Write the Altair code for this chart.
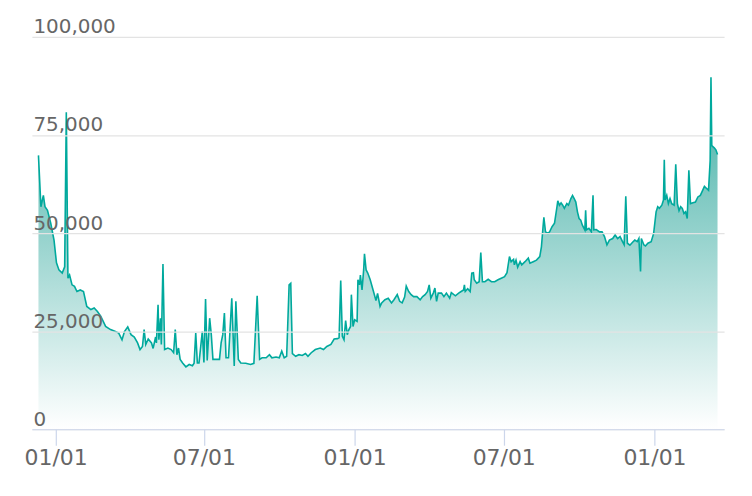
import altair as alt
import pandas as pd

# Day offsets from 2023-01-01 and the values
days_a = [-21, -18, -15, -13, -10, -6, -2, 1, 4, 8, 11, 13, 15, 17, 20, 23, 26, 30, 34, 38,
          43, 47, 51, 55, 61, 67, 73, 77, 81, 84, 88, 92, 96, 100, 103, 106, 108, 110, 113, 117,
          119, 122, 123, 125, 126, 128, 129, 131, 133, 137, 141, 144, 146, 148, 150, 152, 155, 159, 163, 167,
          169, 171, 173, 175, 179]
vals_a = [69800, 56700, 59600, 56700, 55800, 52500, 48200, 42400, 40600, 39800, 41400, 80800, 38500, 39300, 36800,
          36400, 35100, 35500, 35100, 31300, 30500, 30900, 30000, 28800, 26200, 25400, 24900, 24500, 22800, 24900,
          26100, 24100, 23500, 22000, 20300, 21100, 25400, 21600, 23000, 22000, 20600, 23500, 22000, 31700, 22800,
          28300, 21600, 42100, 20300, 20700, 20300, 19500, 25400, 19000, 20700, 17800, 16900, 15900, 16500, 16200,
          16800, 24500, 16900, 16900, 24900]

days_b = [181, 183, 185, 188, 190, 192, 196, 200, 202, 204, 206, 208, 211, 215, 218, 220, 223, 226, 232, 238,
          242, 246, 249, 252, 257, 261, 264, 269, 273, 276, 279, 282, 285, 287, 289, 293, 297, 301, 305, 308,
          312, 317, 323, 327, 331, 336, 340, 344, 346, 348, 350, 352, 354, 356, 358, 360, 361, 363, 365]
vals_b = [17000, 33200, 17500, 28300, 24100, 17800, 17800, 17800, 22000, 24100, 29600, 18200, 18200, 33400, 16100,
          32600, 17800, 16900, 16800, 16500, 16800, 34000, 17800, 18200, 18200, 19000, 18200, 18400, 18200, 19900,
          18200, 18600, 36800, 37200, 19300, 18600, 19000, 18800, 19300, 18600, 19500, 20300, 20700, 20300, 21100,
          21600, 23000, 23100, 23300, 37900, 23700, 22800, 27700, 24100, 25400, 26200, 34300, 26200, 27900]

days_c = [368, 369, 371, 372, 374, 376, 377, 379, 381, 384, 388, 391, 393, 396, 398, 402, 406, 410, 413, 417,
          420, 423, 426, 428, 431, 434, 437, 441, 445, 448, 451, 454, 456, 458, 461, 463, 465, 467, 471, 474,
          477, 481, 483, 488, 492, 495, 498, 499, 500, 503, 506, 508, 510, 511, 514, 517, 519, 521, 524, 528,
          532, 536, 540, 544, 548, 551]
vals_c = [27500, 38100, 36800, 39300, 35500, 40600, 44700, 40600, 39800, 38100, 35100, 32800, 34600, 31300, 32200,
          33000, 33400, 32200, 33000, 34300, 32600, 32200, 33700, 36500, 35100, 34300, 33800, 33800, 33000, 33800,
          34300, 35100, 36800, 33400, 34700, 36000, 32600, 34700, 34700, 33800, 34700, 33400, 34800, 34000, 34700,
          35100, 35500, 36800, 35100, 35800, 35100, 39800, 39900, 38100, 37200, 37600, 45000, 37600, 37600, 38200,
          37600, 37600, 38100, 38500, 38900, 39900]

days_d = [554, 556, 559, 560, 562, 564, 567, 569, 573, 577, 579, 583, 587, 591, 593, 595, 596, 598, 601, 603,
          606, 609, 612, 613, 615, 617, 619, 621, 624, 626, 629, 631, 633, 635, 637, 639, 641, 643, 646, 647,
          648, 651, 654, 656, 657, 660, 664, 667, 670, 673, 676, 680, 683, 686, 689, 692, 694, 696, 698, 701,
          704, 707, 710, 712, 714, 715, 718, 720, 723, 727, 730, 733, 735, 737, 740, 742, 743, 744, 746, 748,
          750, 752, 755, 757, 759, 761, 763, 765, 767, 769, 771, 773, 775, 778, 781, 784, 787, 789, 792, 795,
          797, 799, 800, 801, 804, 806, 808]
vals_d = [44000, 42700, 43300, 41900, 43100, 41300, 42700, 41900, 42700, 43600, 42300, 42700, 43100, 44000, 46500,
          51600, 54000, 50300, 49900, 50300, 51600, 52500, 56700, 58200, 57100, 57700, 57100, 56300, 57500, 57100,
          58800, 59600, 58800, 57900, 55400, 53700, 53300, 52000, 50800, 55800, 50800, 51200, 50300, 59600, 50800,
          50900, 50300, 50300, 49100, 47000, 48200, 48600, 49500, 48600, 49100, 47800, 47000, 59400, 47400, 46900,
          47600, 48200, 47800, 48600, 40200, 48600, 47000, 46700, 47400, 47800, 49900, 55400, 56700, 56300, 57100,
          58400, 68700, 58400, 59600, 57500, 58800, 57500, 57100, 67500, 57500, 55700, 56700, 56300, 55000, 55400,
          53700, 66000, 57500, 57700, 57900, 59200, 59600, 60500, 61900, 61300, 60900, 68500, 89700, 72300, 71700,
          71200, 70000]

y_ticks = [0, 25000, 50000, 75000, 100000]

days = days_a + days_b + days_c + days_d
values = vals_a + vals_b + vals_c + vals_d
df = pd.DataFrame({
    "date": pd.Timestamp("2023-01-01") + pd.to_timedelta(days, unit="D"),
    "value": values,
})

x_enc = alt.X(
    "date:T",
    scale=alt.Scale(domain=[alt.DateTime(year=2022, month=12, date=3),
                            alt.DateTime(year=2025, month=3, date=27)]),
    axis=alt.Axis(
        title=None, grid=False, format="%m/%d",
        values=[alt.DateTime(year=2023, month=1, date=1), alt.DateTime(year=2023, month=7, date=1),
                alt.DateTime(year=2024, month=1, date=1), alt.DateTime(year=2024, month=7, date=1),
                alt.DateTime(year=2025, month=1, date=1)],
        domainColor="#ccd6eb", domainWidth=1.2, tickColor="#ccd6eb", tickWidth=1.2, tickSize=16,
        labelFont="DejaVu Sans", labelFontSize=22, labelColor="#666666", labelPadding=2,
        labelFlush=False, zindex=1,
    ),
)
y_enc = alt.Y(
    "value:Q",
    scale=alt.Scale(domain=[0, 100000], nice=False),
    axis=alt.Axis(
        title=None, values=y_ticks, format=",.0f", domain=False, ticks=False,
        grid=True, gridColor="#e3e3e3", gridWidth=1.2,
        labelFont="DejaVu Sans", labelFontSize=20, labelColor="#666666",
        labelAlign="left", labelBaseline="bottom", labelPadding=-1, labelFlush=False,
        labelOverlap=False, zindex=1,
    ),
)

area = alt.Chart(df).mark_area(
    line=False,
    color=alt.Gradient(
        gradient="linear",
        stops=[alt.GradientStop(color="#ffffff", offset=0),
               alt.GradientStop(color="#3faea4", offset=1)],
        x1=1, x2=1, y1=1, y2=0,
    ),
).encode(x=x_enc, y=y_enc)

line = alt.Chart(df).mark_line(color="#00a99d", strokeWidth=1.6).encode(x=x_enc, y=y_enc)

chart = alt.layer(area, line).properties(
    width=695, height=394,
    autosize=alt.AutoSizeParams(type="none"),
    padding={"left": 24, "top": 28, "right": 20, "bottom": 50},
).configure_view(stroke=None)

chart.save("out.html", embed_options={"renderer": "svg", "actions": False})
